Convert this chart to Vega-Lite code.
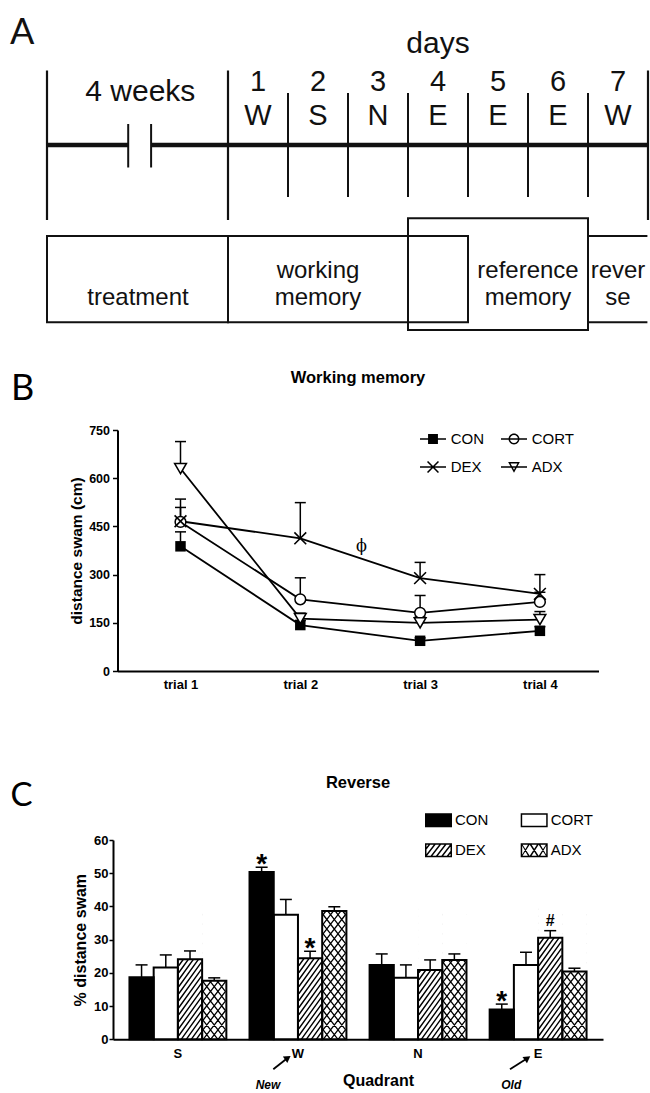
{
  "$schema": "https://vega.github.io/schema/vega-lite/v6.json",
  "background": "white",
  "padding": {"left": 10, "top": 15, "right": 0, "bottom": 0},
  "config": {
    "view": {"stroke": null},
    "font": "Liberation Sans",
    "axis": {"grid": false, "domainColor": "black", "tickColor": "black", "labelColor": "black", "titleColor": "black", "labelFont": "Liberation Sans", "titleFont": "Liberation Sans", "labelFontWeight": "bold", "titleFontWeight": "bold", "labelOverlap": false},
    "legend": {"labelFont": "Liberation Sans", "labelColor": "black"},
    "title": {"font": "Liberation Sans", "fontWeight": "bold", "color": "black"}
  },
  "resolve": {"scale": {"shape": "independent"}, "legend": {"shape": "independent"}},
  "spacing": 169,
  "bounds": "flush",
  "center": true,
  "datasets": {
    "aOuter": [{"x": -3.0167, "y": 18.5, "y2": 68.33}, {"x": 0, "y": 18.5, "y2": 68.33}, {"x": 7.0, "y": 18.5, "y2": 68.33}],
    "aDiv": [{"x": 1, "y": 26, "y2": 60.67}, {"x": 2, "y": 26, "y2": 60.67}, {"x": 3, "y": 26, "y2": 60.67}, {"x": 4, "y": 26, "y2": 60.67}, {"x": 5, "y": 26, "y2": 60.67}, {"x": 6, "y": 26, "y2": 60.67}],
    "aBreak": [{"x": -1.6633, "y": 36.33, "y2": 50.83}, {"x": -1.2817, "y": 36.33, "y2": 50.83}],
    "aThick": [{"x": -3.0167, "x2": -1.6633, "y": 43.333}, {"x": -1.2817, "x2": 6.985, "y": 43.333}],
    "aBox": [{"x": -3.0167, "x2": 0, "y": 73.67, "y2": 102.43}, {"x": 0, "x2": 4, "y": 73.67, "y2": 102.43}, {"x": 3, "x2": 6, "y": 67.77, "y2": 105}],
    "aRev": [{"x": 6, "x2": 6.99, "y": 73.67}, {"x": 6, "x2": 6.99, "y": 102.43}],
    "aText": [
      {"kind": "letter", "text": "A", "x": -3.6333, "y": 9.667},
      {"kind": "big", "text": "days", "x": 3.5, "y": 12.83},
      {"kind": "big", "text": "4 weeks", "x": -1.4617, "y": 28.83},
      {"kind": "day", "text": "1", "x": 0.5, "y": 25.33},
      {"kind": "day", "text": "2", "x": 1.5, "y": 25.33},
      {"kind": "day", "text": "3", "x": 2.5, "y": 25.33},
      {"kind": "day", "text": "4", "x": 3.5, "y": 25.33},
      {"kind": "day", "text": "5", "x": 4.5, "y": 25.33},
      {"kind": "day", "text": "6", "x": 5.5, "y": 25.33},
      {"kind": "day", "text": "7", "x": 6.5, "y": 25.33},
      {"kind": "day", "text": "W", "x": 0.5, "y": 36.5},
      {"kind": "day", "text": "S", "x": 1.5, "y": 36.5},
      {"kind": "day", "text": "N", "x": 2.5, "y": 36.5},
      {"kind": "day", "text": "E", "x": 3.5, "y": 36.5},
      {"kind": "day", "text": "E", "x": 4.5, "y": 36.5},
      {"kind": "day", "text": "E", "x": 5.5, "y": 36.5},
      {"kind": "day", "text": "W", "x": 6.5, "y": 36.5},
      {"kind": "label", "text": "treatment", "x": -1.5, "y": 96.83},
      {"kind": "label", "text": "working", "x": 1.5, "y": 87.5},
      {"kind": "label", "text": "memory", "x": 1.5, "y": 96.83},
      {"kind": "label", "text": "reference", "x": 5, "y": 87.5},
      {"kind": "label", "text": "memory", "x": 5, "y": 96.83},
      {"kind": "label", "text": "rever", "x": 6.5, "y": 87.5},
      {"kind": "label", "text": "se", "x": 6.5, "y": 96.83}
    ],
    "wm": [
      {"group": "CON", "trial": 1, "mean": 388, "upper": 433},
      {"group": "CON", "trial": 2, "mean": 143, "upper": 157},
      {"group": "CON", "trial": 3, "mean": 94, "upper": 103},
      {"group": "CON", "trial": 4, "mean": 125, "upper": 138},
      {"group": "CORT", "trial": 1, "mean": 464, "upper": 509},
      {"group": "CORT", "trial": 2, "mean": 223, "upper": 290},
      {"group": "CORT", "trial": 3, "mean": 181, "upper": 235},
      {"group": "CORT", "trial": 4, "mean": 215, "upper": 245},
      {"group": "DEX", "trial": 1, "mean": 466, "upper": 535},
      {"group": "DEX", "trial": 2, "mean": 413, "upper": 524},
      {"group": "DEX", "trial": 3, "mean": 289, "upper": 338},
      {"group": "DEX", "trial": 4, "mean": 240, "upper": 300},
      {"group": "ADX", "trial": 1, "mean": 630, "upper": 714},
      {"group": "ADX", "trial": 2, "mean": 163, "upper": 180},
      {"group": "ADX", "trial": 3, "mean": 150, "upper": 168},
      {"group": "ADX", "trial": 4, "mean": 160, "upper": 185}
    ],
    "wmNote": [{"label": "ϕ", "trial": 2.51, "mean": 390}],
    "rev": [
      {"quadrant": "S", "group": "CON", "value": 18.7, "err": 22.4},
      {"quadrant": "S", "group": "CORT", "value": 21.6, "err": 25.4},
      {"quadrant": "S", "group": "DEX", "value": 24.1, "err": 26.6},
      {"quadrant": "S", "group": "ADX", "value": 17.6, "err": 18.5},
      {"quadrant": "W", "group": "CON", "value": 50.4, "err": 51.8},
      {"quadrant": "W", "group": "CORT", "value": 37.5, "err": 42.1},
      {"quadrant": "W", "group": "DEX", "value": 24.4, "err": 26.5},
      {"quadrant": "W", "group": "ADX", "value": 38.6, "err": 39.9},
      {"quadrant": "N", "group": "CON", "value": 22.4, "err": 25.7},
      {"quadrant": "N", "group": "CORT", "value": 18.5, "err": 22.4},
      {"quadrant": "N", "group": "DEX", "value": 20.9, "err": 23.9},
      {"quadrant": "N", "group": "ADX", "value": 23.9, "err": 25.7},
      {"quadrant": "E", "group": "CON", "value": 9.0, "err": 10.6},
      {"quadrant": "E", "group": "CORT", "value": 22.4, "err": 26.2},
      {"quadrant": "E", "group": "DEX", "value": 30.6, "err": 32.7},
      {"quadrant": "E", "group": "ADX", "value": 20.4, "err": 21.4}
    ],
    "revAnn": [
      {"quadrant": "W", "group": "CON", "label": "*", "err": 51.8},
      {"quadrant": "W", "group": "DEX", "label": "*", "err": 26.5},
      {"quadrant": "E", "group": "CON", "label": "*", "err": 10.6},
      {"quadrant": "E", "group": "DEX", "label": "#", "err": 32.7}
    ],
    "revArrows": [
      {"label": "New", "x1": 1.7946, "y1": -9.03, "x2": 1.908, "y2": -5.78, "lx": 1.7504, "ly": -15.05},
      {"label": "Old", "x1": 3.766, "y1": -9.03, "x2": 3.904, "y2": -5.87, "lx": 3.776, "ly": -15.05}
    ]
  },
  "vconcat": [
    {
      "width": 490,
      "height": 246,
      "encoding": {
        "x": {"field": "x", "type": "quantitative", "scale": {"domain": [-1.91667, 6.25], "nice": false, "zero": false}, "axis": null},
        "y": {"field": "y", "type": "quantitative", "scale": {"domain": [0, 82], "reverse": true, "nice": false, "zero": false}, "axis": null}
      },
      "layer": [
        {"data": {"name": "aOuter"}, "mark": {"type": "rule", "color": "#111", "strokeWidth": 2.2}, "encoding": {"y2": {"field": "y2"}}},
        {"data": {"name": "aDiv"}, "mark": {"type": "rule", "color": "#111", "strokeWidth": 2}, "encoding": {"y2": {"field": "y2"}}},
        {"data": {"name": "aBreak"}, "mark": {"type": "rule", "color": "#111", "strokeWidth": 2}, "encoding": {"y2": {"field": "y2"}}},
        {"data": {"name": "aThick"}, "mark": {"type": "rule", "color": "#111", "strokeWidth": 4.5}, "encoding": {"x2": {"field": "x2"}}},
        {"data": {"name": "aBox"}, "mark": {"type": "rect", "fill": "white", "fillOpacity": 0, "stroke": "#111", "strokeWidth": 2}, "encoding": {"x2": {"field": "x2"}, "y2": {"field": "y2"}}},
        {"data": {"name": "aRev"}, "mark": {"type": "rule", "color": "#111", "strokeWidth": 2}, "encoding": {"x2": {"field": "x2"}}},
        {"data": {"name": "aText"}, "transform": [{"filter": "datum.kind === 'letter'"}], "mark": {"type": "text", "font": "Lato", "fontSize": 36, "align": "left", "baseline": "alphabetic", "color": "#111"}, "encoding": {"text": {"field": "text"}}},
        {"data": {"name": "aText"}, "transform": [{"filter": "datum.kind === 'big'"}], "mark": {"type": "text", "font": "Liberation Sans", "fontSize": 30, "align": "center", "baseline": "alphabetic", "color": "#111"}, "encoding": {"text": {"field": "text"}}},
        {"data": {"name": "aText"}, "transform": [{"filter": "datum.kind === 'day'"}], "mark": {"type": "text", "font": "Liberation Sans", "fontSize": 29, "align": "center", "baseline": "alphabetic", "color": "#111"}, "encoding": {"text": {"field": "text"}}},
        {"data": {"name": "aText"}, "transform": [{"filter": "datum.kind === 'label'"}], "mark": {"type": "text", "font": "Liberation Sans", "fontSize": 24, "align": "center", "baseline": "alphabetic", "color": "#111"}, "encoding": {"text": {"field": "text"}}}
      ]
    },
    {
      "width": 481,
      "height": 241,
      "title": {"text": "Working memory", "fontSize": 16.5, "frame": "group", "anchor": "middle", "offset": -16},
      "resolve": {"scale": {"x": "independent"}},
      "layer": [
        {
          "data": {"name": "wm"},
          "encoding": {
            "x": {"field": "trial", "type": "quantitative", "title": null, "scale": {"domain": [0.47412, 4.48915], "nice": false, "zero": false}, "axis": {"values": [1, 2, 3, 4], "labelExpr": "'trial ' + datum.value", "ticks": false, "domainWidth": 2, "labelFontSize": 13, "labelPadding": 7}},
            "y": {"field": "mean", "type": "quantitative", "title": "distance swam (cm)", "scale": {"domain": [0, 750], "nice": false}, "axis": {"values": [0, 150, 300, 450, 600, 750], "tickSize": 5, "tickWidth": 1.5, "domainWidth": 2, "labelFontSize": 12.5, "labelPadding": 3, "titleFontSize": 15.5, "titlePadding": 4, "labelOverlap": false}}
          },
          "layer": [
            {"mark": {"type": "line", "color": "black", "strokeWidth": 1.8}, "encoding": {"detail": {"field": "group"}}},
            {"mark": {"type": "rule", "color": "black", "strokeWidth": 1.5}, "encoding": {"y2": {"field": "upper"}}},
            {"mark": {"type": "tick", "orient": "horizontal", "size": 11, "thickness": 1.5, "color": "black", "opacity": 1}, "encoding": {"y": {"field": "upper", "type": "quantitative", "title": "distance swam (cm)", "scale": {"domain": [0, 750], "nice": false}, "axis": {"values": [0, 150, 300, 450, 600, 750], "tickSize": 5, "tickWidth": 1.5, "domainWidth": 2, "labelFontSize": 12.5, "labelPadding": 3, "titleFontSize": 15.5, "titlePadding": 4, "labelOverlap": false}}}},
            {"transform": [{"filter": "datum.group === 'CON'"}], "mark": {"type": "point", "shape": "square", "filled": true, "color": "black", "size": 110, "opacity": 1}},
            {"transform": [{"filter": "datum.group === 'CORT'"}], "mark": {"type": "point", "shape": "circle", "filled": true, "fill": "white", "stroke": "black", "strokeWidth": 1.5, "size": 115, "opacity": 1}},
            {"transform": [{"filter": "datum.group === 'DEX'"}], "mark": {"type": "point", "shape": "M-1,-1L1,1M-1,1L1,-1", "filled": false, "color": "black", "strokeWidth": 1.6, "size": 140, "opacity": 1}},
            {"transform": [{"filter": "datum.group === 'ADX'"}], "mark": {"type": "point", "shape": "triangle-down", "filled": true, "fill": "white", "stroke": "black", "strokeWidth": 1.5, "size": 140, "opacity": 1}},
            {
              "mark": {"type": "point", "filled": true, "color": "black", "size": 0, "opacity": 1},
              "encoding": {
                "shape": {
                  "field": "group", "type": "nominal",
                  "scale": {"domain": ["CON", "CORT", "DEX", "ADX"], "range": [
                    "M-1,-0.06H1V0.06H-1ZM-0.38,-0.38H0.38V0.38H-0.38Z",
                    "M-1,-0.06H1V0.06H-1ZM0.42,0C0.42,0.232,0.232,0.42,0,0.42C-0.232,0.42,-0.42,0.232,-0.42,0C-0.42,-0.232,-0.232,-0.42,0,-0.42C0.232,-0.42,0.42,-0.232,0.42,0ZM0.31,0C0.31,-0.171,0.171,-0.31,0,-0.31C-0.171,-0.31,-0.31,-0.171,-0.31,0C-0.31,0.171,-0.171,0.31,0,0.31C0.171,0.31,0.31,0.171,0.31,0Z",
                    "M-1,-0.06H1V0.06H-1ZM-0.378,-0.462L0.462,0.378L0.378,0.462L-0.462,-0.378ZM-0.462,0.378L0.378,-0.462L0.462,-0.378L-0.378,0.462Z",
                    "M-1,-0.06H1V0.06H-1ZM-0.45,-0.38L0.45,-0.38L0,0.45ZM-0.266,-0.27L0,0.22L0.266,-0.27Z"
                  ]},
                  "legend": {"orient": "none", "legendX": 302.5, "legendY": -4, "direction": "horizontal", "columns": 2, "title": null, "symbolSize": 676, "symbolStrokeWidth": 0, "symbolFillColor": "black", "symbolOpacity": 1, "labelFontSize": 15, "labelFontWeight": "normal", "labelOffset": 4.7, "columnPadding": 16, "rowPadding": 7, "padding": 0}
                }
              }
            }
          ]
        },
        {
          "data": {"name": "wmNote"},
          "mark": {"type": "text", "font": "DejaVu Serif", "fontSize": 16, "baseline": "middle", "align": "center", "color": "black"},
          "encoding": {
            "x": {"field": "trial", "type": "quantitative", "scale": {"domain": [0.47412, 4.48915], "nice": false, "zero": false}, "axis": {"orient": "top", "domain": false, "ticks": false, "labels": false, "title": "B", "titleFont": "Lato", "titleFontSize": 36, "titleFontWeight": "normal", "titleX": -107, "titleY": -31, "titleAlign": "left", "titleBaseline": "alphabetic", "titleAngle": 0}},
            "y": {"field": "mean", "type": "quantitative", "title": "distance swam (cm)", "scale": {"domain": [0, 750], "nice": false}, "axis": {"values": [0, 150, 300, 450, 600, 750], "tickSize": 5, "tickWidth": 1.5, "domainWidth": 2, "labelFontSize": 12.5, "labelPadding": 3, "titleFontSize": 15.5, "titlePadding": 4, "labelOverlap": false}},
            "text": {"field": "label"}
          }
        }
      ]
    },
    {
      "width": 490,
      "height": 199.3,
      "title": {"text": "Reverse", "fontSize": 16.5, "frame": "group", "anchor": "middle", "offset": -12},
      "resolve": {"scale": {"x": "independent"}},
      "layer": [
        {
          "data": {"name": "rev"},
          "encoding": {
            "x": {"field": "quadrant", "type": "nominal", "scale": {"domain": ["S", "W", "N", "E"], "paddingInner": 0.193, "paddingOuter": 0.137}, "axis": {"labelAngle": 0, "ticks": false, "domainWidth": 2, "labelFontSize": 13, "labelPadding": 8, "title": "Quadrant", "titleFontSize": 16, "titleX": 265, "titleY": 45.7, "titleBaseline": "alphabetic", "titleAlign": "center"}},
            "xOffset": {"field": "group", "type": "nominal", "scale": {"domain": ["CON", "CORT", "DEX", "ADX"], "paddingInner": 0, "paddingOuter": 0}},
            "y": {"field": "value", "type": "quantitative", "stack": null, "title": "% distance swam", "scale": {"domain": [0, 60], "nice": false}, "axis": {"values": [0, 10, 20, 30, 40, 50, 60], "tickSize": 4, "tickWidth": 1.5, "domainWidth": 2, "labelFontSize": 13, "labelPadding": 1, "titleFontSize": 16, "titlePadding": 5, "labelOverlap": false}}
          },
          "layer": [
            {"mark": {"type": "bar", "opacity": 1, "strokeWidth": 0}, "encoding": {"fill": {"field": "group", "type": "nominal", "scale": {"domain": ["CON", "CORT", "DEX", "ADX"], "range": ["black", "white", "white", "white"]}, "legend": null}}},
            {"transform": [{"filter": "datum.group === 'DEX'"}], "mark": {"type": "point", "shape": "M6.28,0L11.3,-7M1.24,0L11.3,-14M-3.78,0L11.3,-21M-8.82,0L11.3,-28M-11.3,-3.54L11.3,-35M-11.3,-10.54L11.3,-42M-11.3,-17.54L11.3,-49M-11.3,-24.54L11.3,-56M-11.3,-31.54L11.3,-63M-11.3,-38.54L11.3,-70M-11.3,-45.54L11.3,-77M-11.3,-52.54L11.3,-84M-11.3,-59.54L11.3,-91M-11.3,-66.54L11.3,-98M-11.3,-73.54L11.3,-105M-11.3,-80.54L11.3,-112M-11.3,-87.54L11.3,-119M-11.3,-94.54L11.3,-126M-11.3,-101.54L11.3,-133M-11.3,-108.54L6.99,-134M-11.3,-115.54L1.96,-134M-11.3,-122.54L-3.06,-134M-11.3,-129.54L-8.1,-134", "size": 4, "filled": false, "color": "black", "strokeWidth": 1.4, "opacity": 1}, "encoding": {"y": {"datum": 0, "type": "quantitative", "title": "% distance swam", "scale": {"domain": [0, 60], "nice": false}, "axis": {"values": [0, 10, 20, 30, 40, 50, 60], "tickSize": 4, "tickWidth": 1.5, "domainWidth": 2, "labelFontSize": 13, "labelPadding": 1, "titleFontSize": 16, "titlePadding": 5, "labelOverlap": false}}}},
            {"transform": [{"filter": "datum.group === 'ADX'"}], "mark": {"type": "point", "shape": "M3.83,0L11.3,-9.6M-3.64,0L11.3,-19.2M-11.11,0L11.3,-28.8M-11.3,-9.36L11.3,-38.4M-11.3,-18.96L11.3,-48M-11.3,-28.56L11.3,-57.6M-11.3,-38.16L11.3,-67.2M-11.3,-47.76L11.3,-76.8M-11.3,-57.36L11.3,-86.4M-11.3,-66.96L11.3,-96M-11.3,-76.56L11.3,-105.6M-11.3,-86.16L11.3,-115.2M-11.3,-95.76L11.3,-124.8M-11.3,-105.36L10.99,-134M-11.3,-114.96L3.52,-134M-11.3,-124.56L-3.95,-134M-3.83,0L-11.3,-9.6M3.64,0L-11.3,-19.2M11.11,0L-11.3,-28.8M11.3,-9.36L-11.3,-38.4M11.3,-18.96L-11.3,-48M11.3,-28.56L-11.3,-57.6M11.3,-38.16L-11.3,-67.2M11.3,-47.76L-11.3,-76.8M11.3,-57.36L-11.3,-86.4M11.3,-66.96L-11.3,-96M11.3,-76.56L-11.3,-105.6M11.3,-86.16L-11.3,-115.2M11.3,-95.76L-11.3,-124.8M11.3,-105.36L-10.99,-134M11.3,-114.96L-3.52,-134M11.3,-124.56L3.95,-134", "size": 4, "filled": false, "color": "black", "strokeWidth": 1.3, "opacity": 1}, "encoding": {"y": {"datum": 0, "type": "quantitative", "title": "% distance swam", "scale": {"domain": [0, 60], "nice": false}, "axis": {"values": [0, 10, 20, 30, 40, 50, 60], "tickSize": 4, "tickWidth": 1.5, "domainWidth": 2, "labelFontSize": 13, "labelPadding": 1, "titleFontSize": 16, "titlePadding": 5, "labelOverlap": false}}}},
            {"transform": [{"filter": "datum.group === 'DEX' || datum.group === 'ADX'"}], "mark": {"type": "bar", "color": "white", "opacity": 1}, "encoding": {"y2": {"datum": 41}}},
            {"mark": {"type": "bar", "fill": "transparent", "stroke": "black", "strokeWidth": 2, "opacity": 1}},
            {"mark": {"type": "rule", "color": "black", "strokeWidth": 1.5}, "encoding": {"y2": {"field": "err"}}},
            {"mark": {"type": "tick", "orient": "horizontal", "size": 12, "thickness": 1.5, "color": "black", "opacity": 1}, "encoding": {"y": {"field": "err", "type": "quantitative", "title": "% distance swam", "scale": {"domain": [0, 60], "nice": false}, "axis": {"values": [0, 10, 20, 30, 40, 50, 60], "tickSize": 4, "tickWidth": 1.5, "domainWidth": 2, "labelFontSize": 13, "labelPadding": 1, "titleFontSize": 16, "titlePadding": 5, "labelOverlap": false}}}},
            {"data": {"name": "revAnn"}, "transform": [{"filter": "datum.label === '*'"}], "mark": {"type": "text", "font": "Liberation Sans", "fontSize": 28, "fontWeight": "bold", "baseline": "alphabetic", "align": "center", "dy": 6, "color": "black"}, "encoding": {"y": {"field": "err", "type": "quantitative", "title": "% distance swam", "scale": {"domain": [0, 60], "nice": false}, "axis": {"values": [0, 10, 20, 30, 40, 50, 60], "tickSize": 4, "tickWidth": 1.5, "domainWidth": 2, "labelFontSize": 13, "labelPadding": 1, "titleFontSize": 16, "titlePadding": 5, "labelOverlap": false}}, "text": {"field": "label"}}},
            {"data": {"name": "revAnn"}, "transform": [{"filter": "datum.label === '#'"}], "mark": {"type": "text", "font": "Liberation Sans", "fontSize": 16, "fontWeight": "bold", "baseline": "alphabetic", "align": "center", "dy": -4.4, "color": "black"}, "encoding": {"y": {"field": "err", "type": "quantitative", "title": "% distance swam", "scale": {"domain": [0, 60], "nice": false}, "axis": {"values": [0, 10, 20, 30, 40, 50, 60], "tickSize": 4, "tickWidth": 1.5, "domainWidth": 2, "labelFontSize": 13, "labelPadding": 1, "titleFontSize": 16, "titlePadding": 5, "labelOverlap": false}}, "text": {"field": "label"}}},
            {
              "mark": {"type": "point", "filled": true, "color": "black", "size": 0, "opacity": 1},
              "encoding": {
                "shape": {
                  "field": "group", "type": "nominal",
                  "scale": {"domain": ["CON", "CORT", "DEX", "ADX"], "range": [
                    "M-1,-0.52H1V0.52H-1Z",
                    "M-1,-0.52H1V0.52H-1ZM-0.89,-0.41V0.41H0.89V-0.41Z",
                    "M-1,-0.52H1V0.52H-1ZM-0.89,-0.41V0.41H0.89V-0.41ZM0.53,0.52L1,-0.091L1,0.091L0.67,0.52ZM0.13,0.52L0.93,-0.52L1,-0.52L1,-0.429L0.27,0.52ZM-0.27,0.52L0.53,-0.52L0.67,-0.52L-0.13,0.52ZM-0.67,0.52L0.13,-0.52L0.27,-0.52L-0.53,0.52ZM-1,0.429L-0.27,-0.52L-0.13,-0.52L-0.93,0.52L-1,0.52ZM-1,0.091L-1,-0.091L-0.67,-0.52L-0.53,-0.52Z",
                    "M-1,-0.52H1V0.52H-1ZM-0.89,-0.41V0.41H0.89V-0.41ZM-1,0.52L-0.4,-0.52L-0.266,-0.52L-0.933,0.52ZM-0.4,0.52L0.266,-0.52L0.4,-0.52L-0.266,0.52ZM0.266,0.52L0.933,-0.52L1,-0.52L0.4,0.52ZM0.933,0.52L0.266,-0.52L0.4,-0.52L1,0.52ZM0.266,0.52L-0.4,-0.52L-0.266,-0.52L0.4,0.52ZM-0.4,0.52L-1,-0.52L-0.933,-0.52L-0.266,0.52Z"
                  ]},
                  "legend": {"orient": "none", "legendX": 312, "legendY": -33.5, "direction": "horizontal", "columns": 2, "title": null, "symbolSize": 729, "symbolStrokeWidth": 0, "symbolFillColor": "black", "symbolOpacity": 1, "labelFontSize": 15, "labelFontWeight": "normal", "labelOffset": 3, "columnPadding": 31.7, "rowPadding": 8.3, "padding": 0}
                }
              }
            }
          ]
        },
        {
          "data": {"name": "revArrows"},
          "layer": [
            {"mark": {"type": "rule", "color": "black", "strokeWidth": 1.8}, "encoding": {
              "x": {"field": "x1", "type": "quantitative", "title": "C", "scale": {"domain": [0.4595, 4.5405], "nice": false, "zero": false}, "axis": {"orient": "top", "domain": false, "ticks": false, "labels": false, "titleFont": "Lato", "titleFontSize": 33, "titleFontWeight": "normal", "titleX": -103, "titleY": -34.3, "titleAlign": "left", "titleBaseline": "alphabetic", "titleAngle": 0}},
              "x2": {"field": "x2"},
              "y": {"field": "y1", "type": "quantitative", "title": "% distance swam", "scale": {"domain": [0, 60], "nice": false}, "axis": {"values": [0, 10, 20, 30, 40, 50, 60], "tickSize": 4, "tickWidth": 1.5, "domainWidth": 2, "labelFontSize": 13, "labelPadding": 1, "titleFontSize": 16, "titlePadding": 5, "labelOverlap": false}},
              "y2": {"field": "y2"}}},
            {"mark": {"type": "point", "shape": "triangle", "angle": 55, "filled": true, "color": "black", "size": 60, "opacity": 1}, "encoding": {
              "x": {"field": "x2", "type": "quantitative", "title": "C", "scale": {"domain": [0.4595, 4.5405], "nice": false, "zero": false}, "axis": {"orient": "top", "domain": false, "ticks": false, "labels": false, "titleFont": "Lato", "titleFontSize": 33, "titleFontWeight": "normal", "titleX": -103, "titleY": -34.3, "titleAlign": "left", "titleBaseline": "alphabetic", "titleAngle": 0}},
              "y": {"field": "y2", "type": "quantitative", "title": "% distance swam", "scale": {"domain": [0, 60], "nice": false}, "axis": {"values": [0, 10, 20, 30, 40, 50, 60], "tickSize": 4, "tickWidth": 1.5, "domainWidth": 2, "labelFontSize": 13, "labelPadding": 1, "titleFontSize": 16, "titlePadding": 5, "labelOverlap": false}}}},
            {"mark": {"type": "text", "font": "Liberation Sans", "fontSize": 12, "fontWeight": "bold", "fontStyle": "italic", "align": "center", "baseline": "alphabetic", "color": "black"}, "encoding": {
              "x": {"field": "lx", "type": "quantitative", "title": "C", "scale": {"domain": [0.4595, 4.5405], "nice": false, "zero": false}, "axis": {"orient": "top", "domain": false, "ticks": false, "labels": false, "titleFont": "Lato", "titleFontSize": 33, "titleFontWeight": "normal", "titleX": -103, "titleY": -34.3, "titleAlign": "left", "titleBaseline": "alphabetic", "titleAngle": 0}},
              "y": {"field": "ly", "type": "quantitative", "title": "% distance swam", "scale": {"domain": [0, 60], "nice": false}, "axis": {"values": [0, 10, 20, 30, 40, 50, 60], "tickSize": 4, "tickWidth": 1.5, "domainWidth": 2, "labelFontSize": 13, "labelPadding": 1, "titleFontSize": 16, "titlePadding": 5, "labelOverlap": false}},
              "text": {"field": "label"}}}
          ]
        }
      ]
    }
  ]
}
